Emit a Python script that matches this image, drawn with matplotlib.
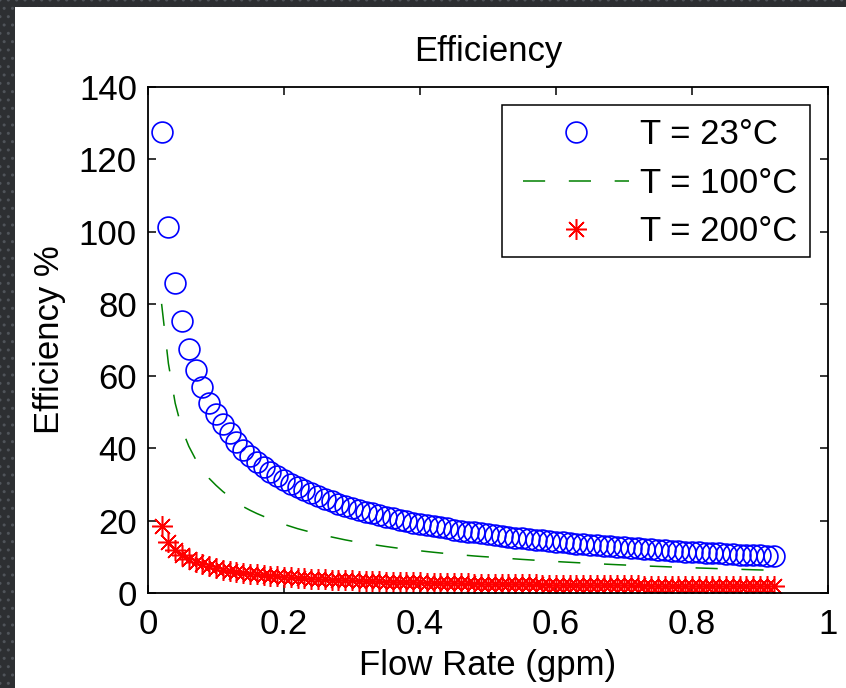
"""Efficiency vs flow rate at three temperatures (MATLAB-style figure)."""

import matplotlib

matplotlib.use("Agg")
import matplotlib.pyplot as plt
import numpy as np
from matplotlib.patches import Rectangle

# flow rate, gpm (0.02 .. 0.92, step 0.01)
flow_rate = np.arange(2, 93) / 100.0

eff_23 = [
    127.5, 101.3, 85.7, 75.2, 67.5, 61.6, 56.9, 52.7, 49.5, 46.8, 44.3, 41.9, 39.6, 37.8,
    36.37, 34.92, 33.58, 32.36, 31.26,
    30.23, 29.27, 28.38, 27.55, 26.77, 26.04, 25.34, 24.70, 24.08, 23.53,
    23.02, 22.50, 22.01, 21.54, 21.09, 20.66, 20.25, 19.86, 19.48, 19.15,
    18.81, 18.48, 18.16, 17.86, 17.56, 17.27, 17.00, 16.74, 16.48, 16.25,
    16.01, 15.78, 15.56, 15.34, 15.13, 14.93, 14.73, 14.53, 14.35, 14.17,
    13.99, 13.82, 13.66, 13.49, 13.33, 13.18, 13.03, 12.88, 12.73, 12.60,
    12.46, 12.33, 12.20, 12.07, 11.95, 11.83, 11.71, 11.59, 11.47, 11.37,
    11.26, 11.15, 11.05, 10.95, 10.85, 10.75, 10.65, 10.56, 10.46, 10.38, 10.29, 10.20,
]

eff_100 = [
    80.0, 63.5, 52.5, 45.3, 40.6, 37.0, 34.2, 31.7, 29.8, 28.1, 26.6, 25.2, 23.9, 22.9,
    22.0, 21.2, 20.4, 19.7, 19.0,
    18.4, 17.8, 17.3, 16.8, 16.3, 15.9, 15.5, 15.1, 14.7, 14.35,
    14.04, 13.73, 13.43, 13.14, 12.86, 12.60, 12.35, 12.11, 11.88, 11.68,
    11.47, 11.27, 11.08, 10.89, 10.71, 10.57, 10.40, 10.24, 10.10, 9.98,
    9.85, 9.70, 9.57, 9.43, 9.30, 9.18, 9.06, 8.94, 8.83, 8.71,
    8.60, 8.50, 8.40, 8.30, 8.20, 8.11, 8.01, 7.92, 7.83, 7.75,
    7.66, 7.58, 7.50, 7.42, 7.35, 7.28, 7.20, 7.13, 7.05, 6.99,
    6.92, 6.86, 6.80, 6.73, 6.67, 6.61, 6.55, 6.49, 6.43, 6.38, 6.33, 6.27,
]

eff_200 = [
    18.4, 14.2, 11.9, 10.4, 9.3, 8.5, 7.9, 7.35, 6.9, 6.5, 6.15, 5.85, 5.58, 5.33,
    5.12, 4.93, 4.75, 4.59, 4.44,
    4.31, 4.19, 4.08, 3.97, 3.87, 3.78, 3.70, 3.62, 3.54, 3.47,
    3.40, 3.34, 3.28, 3.22, 3.16, 3.11, 3.06, 3.01, 2.96, 2.92,
    2.88, 2.84, 2.80, 2.76, 2.72, 2.69, 2.65, 2.62, 2.59, 2.56,
    2.53, 2.50, 2.47, 2.45, 2.42, 2.40, 2.37, 2.35, 2.33, 2.30,
    2.28, 2.26, 2.24, 2.22, 2.20, 2.18, 2.16, 2.14, 2.13, 2.11,
    2.09, 2.08, 2.06, 2.04, 2.03, 2.01, 2.00, 1.98, 1.97, 1.95,
    1.94, 1.93, 1.91, 1.90, 1.89, 1.88, 1.86, 1.85, 1.84, 1.83, 1.82, 1.81,
]

series_labels = ["T = 23°C", "T = 100°C", "T = 200°C"]
x_ticks = [0, 0.2, 0.4, 0.6, 0.8, 1.0]
x_tick_labels = ["0", "0.2", "0.4", "0.6", "0.8", "1"]
y_ticks = [0, 20, 40, 60, 80, 100, 120, 140]

plt.rcParams["font.family"] = ["Liberation Sans", "DejaVu Sans"]
FS = 25

fig = plt.figure(figsize=(8.46, 6.88), dpi=100)
fig.patch.set_facecolor("#2d2f32")
# dotted slide texture on the left / top strip
fig.patches.append(
    Rectangle((0, 0), 1, 1, transform=fig.transFigure, facecolor="#2d2f32",
              edgecolor="#50545a", hatch="..", linewidth=0, zorder=-2)
)
fig.patches.append(
    Rectangle((15 / 846, 0), 1, 1 - 7 / 688, transform=fig.transFigure,
              facecolor="white", edgecolor="none", zorder=-1)
)

ax = fig.add_axes([148 / 846, 95 / 688, 680 / 846, 506 / 688])
ax.set_facecolor("white")

ax.plot(flow_rate, eff_23, "o", mfc="none", mec="blue", ms=15, mew=1.2,
        label=series_labels[0])
ax.plot(flow_rate, eff_100, color="#008000", lw=1.1, dashes=(14.5, 15.5),
        label=series_labels[1])
ax.plot(flow_rate, eff_200, linestyle="none", marker=(8, 2, 0), color="red",
        ms=15, mew=1.1, label=series_labels[2])

ax.set_xlim(0, 1)
ax.set_ylim(0, 140)
ax.set_xticks(x_ticks)
ax.set_xticklabels(x_tick_labels)
ax.set_yticks(y_ticks)
ax.tick_params(direction="in", length=6, width=1.1, labelsize=FS, pad=8,
               top=True, right=True)
ax.tick_params(axis="x", pad=11)
for sp in ax.spines.values():
    sp.set_linewidth(1.3)

ax.set_title("Efficiency", fontsize=FS, pad=18.5)
ax.set_xlabel("Flow Rate (gpm)", fontsize=FS, labelpad=5.5)
ax.set_ylabel("Efficiency %", fontsize=FS, labelpad=9)

# legend frame drawn separately so its box can be wider than the entries
ax.add_patch(
    Rectangle((0.5206, 0.664), 0.4529, 0.3004, transform=ax.transAxes,
              facecolor="white", edgecolor="black", linewidth=1.1, zorder=4)
)
leg = ax.legend(loc="upper right", bbox_to_anchor=(0.9735, 0.9644),
                fontsize=FS, frameon=False, borderaxespad=0,
                handlelength=3.05, handletextpad=0.3, labelspacing=0.45,
                borderpad=0.38)
leg.set_zorder(5)

fig.savefig("out.png", dpi=100, facecolor=fig.get_facecolor())
